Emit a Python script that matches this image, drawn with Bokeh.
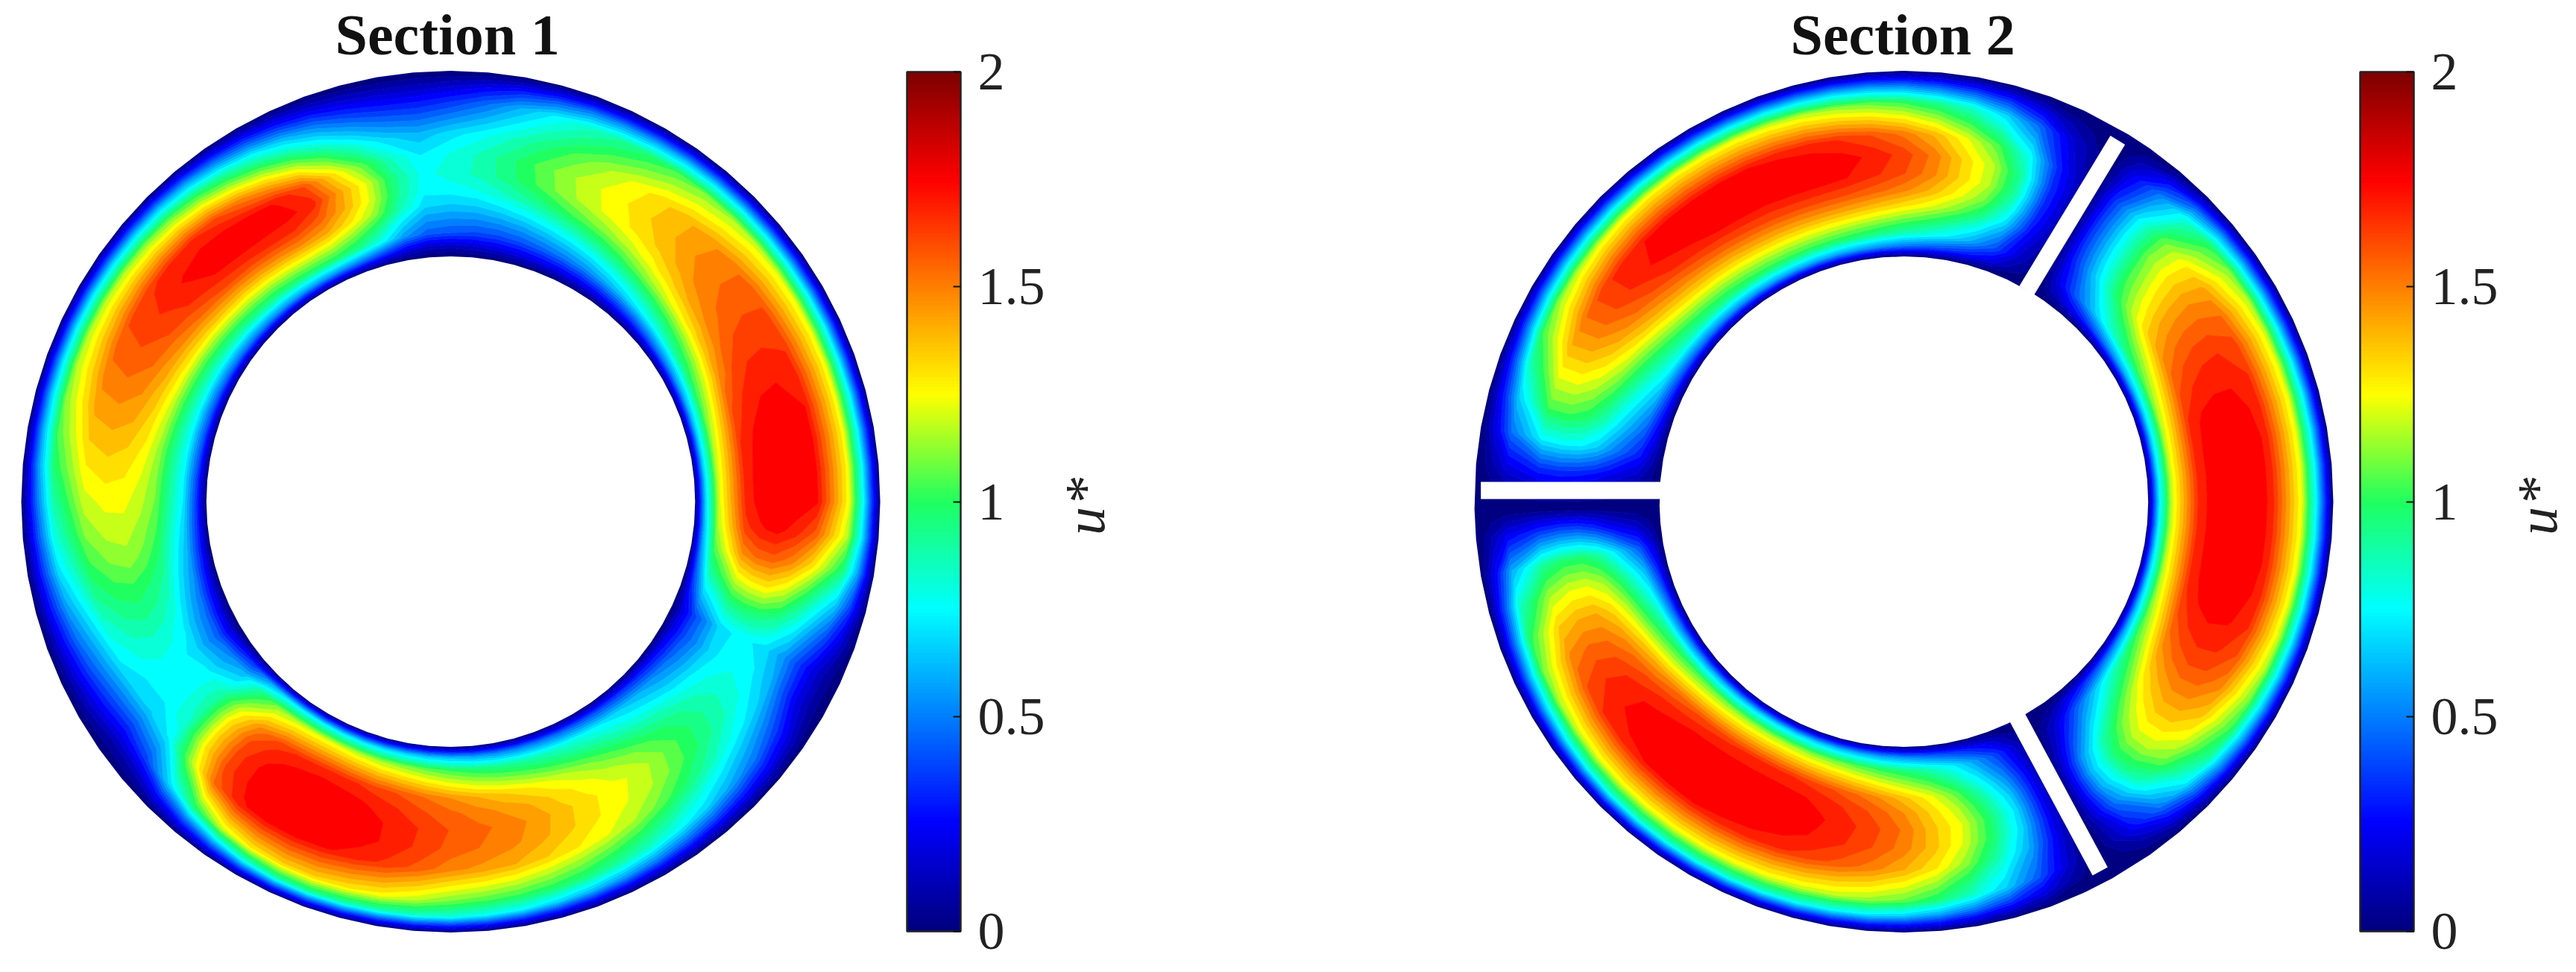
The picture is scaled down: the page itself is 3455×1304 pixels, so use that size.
import numpy as np

from bokeh.embed import file_html
from bokeh.layouts import row
from bokeh.models import ColorBar, FixedTicker, Label, LinearColorMapper, Range1d
from bokeh.plotting import figure
from bokeh.resources import INLINE

# radial stations across the gap, 0 = inner wall, 1 = outer wall
gap_s = [0.0, 0.06, 0.13, 0.28, 0.36, 0.45, 0.55, 0.66, 0.83, 0.91, 1.0]
inner_radius = 0.569

section1_theta = list(range(0, 360, 5))
# u* at gap_s[1:-1], one row per angle
section1_u = [
    [.70, 1.22, 1.72, 1.78, 1.80, 1.80, 1.76, 1.27, .76],
    [.70, 1.22, 1.72, 1.78, 1.80, 1.80, 1.76, 1.28, .76],
    [.70, 1.20, 1.70, 1.77, 1.80, 1.80, 1.76, 1.28, .76],
    [.68, 1.16, 1.66, 1.74, 1.78, 1.78, 1.75, 1.27, .75],
    [.65, 1.10, 1.60, 1.69, 1.74, 1.75, 1.72, 1.27, .74],
    [.60, 1.04, 1.50, 1.63, 1.69, 1.70, 1.68, 1.26, .74],
    [.55, .97, 1.42, 1.56, 1.63, 1.65, 1.64, 1.25, .73],
    [.50, .90, 1.35, 1.50, 1.57, 1.60, 1.60, 1.24, .72],
    [.44, .82, 1.28, 1.44, 1.53, 1.55, 1.54, 1.22, .71],
    [.38, .75, 1.20, 1.36, 1.46, 1.50, 1.48, 1.18, .70],
    [.34, .68, 1.12, 1.28, 1.39, 1.43, 1.42, 1.14, .68],
    [.31, .62, 1.04, 1.21, 1.33, 1.37, 1.35, 1.08, .65],
    [.28, .56, .97, 1.15, 1.28, 1.30, 1.26, 1.00, .60],
    [.26, .52, .90, 1.09, 1.22, 1.24, 1.17, .93, .56],
    [.24, .48, .84, 1.02, 1.15, 1.17, 1.08, .85, .52],
    [.22, .44, .78, .94, 1.06, 1.08, .98, .75, .44],
    [.20, .42, .73, .87, .97, .98, .88, .62, .36],
    [.18, .42, .69, .81, .89, .89, .79, .48, .27],
    [.16, .44, .68, .78, .84, .82, .72, .38, .20],
    [.17, .46, .70, .77, .79, .75, .65, .33, .17],
    [.24, .58, .90, .96, .96, .88, .70, .34, .17],
    [.38, .80, 1.16, 1.24, 1.25, 1.10, .84, .40, .20],
    [.50, .95, 1.33, 1.44, 1.47, 1.34, 1.02, .52, .26],
    [.56, 1.02, 1.46, 1.60, 1.72, 1.62, 1.22, .65, .33],
    [.58, 1.02, 1.50, 1.68, 1.77, 1.74, 1.38, .78, .42],
    [.58, 1.00, 1.48, 1.68, 1.78, 1.78, 1.52, .90, .50],
    [.56, .96, 1.45, 1.66, 1.78, 1.80, 1.64, 1.02, .60],
    [.54, .94, 1.42, 1.64, 1.76, 1.79, 1.70, 1.10, .66],
    [.52, .90, 1.40, 1.60, 1.72, 1.76, 1.70, 1.15, .68],
    [.50, .87, 1.36, 1.55, 1.67, 1.71, 1.68, 1.18, .70],
    [.48, .84, 1.32, 1.50, 1.62, 1.66, 1.64, 1.20, .72],
    [.46, .82, 1.28, 1.45, 1.57, 1.61, 1.59, 1.20, .72],
    [.45, .80, 1.24, 1.40, 1.51, 1.55, 1.53, 1.18, .70],
    [.44, .78, 1.20, 1.35, 1.45, 1.48, 1.46, 1.14, .68],
    [.43, .77, 1.16, 1.30, 1.38, 1.41, 1.38, 1.08, .64],
    [.41, .76, 1.14, 1.25, 1.32, 1.34, 1.30, 1.00, .60],
    [.40, .75, 1.12, 1.21, 1.27, 1.27, 1.22, .90, .52],
    [.38, .70, 1.07, 1.16, 1.22, 1.21, 1.14, .82, .46],
    [.34, .64, 1.00, 1.10, 1.16, 1.13, 1.05, .72, .40],
    [.30, .58, .92, 1.00, 1.05, 1.03, .95, .60, .33],
    [.27, .52, .84, .92, .96, .93, .84, .50, .27],
    [.24, .48, .76, .83, .86, .84, .76, .42, .22],
    [.22, .46, .72, .77, .79, .77, .70, .35, .18],
    [.30, .55, .76, .77, .77, .76, .68, .30, .13],
    [.40, .65, .90, .92, .90, .86, .76, .40, .16],
    [.60, .95, 1.25, 1.33, 1.35, 1.32, 1.18, .70, .33],
    [.72, 1.15, 1.52, 1.62, 1.66, 1.66, 1.58, 1.00, .50],
    [.75, 1.22, 1.66, 1.73, 1.77, 1.77, 1.74, 1.22, .66],
    [.75, 1.25, 1.70, 1.77, 1.80, 1.80, 1.78, 1.32, .82],
    [.74, 1.25, 1.72, 1.78, 1.80, 1.80, 1.78, 1.36, .92],
    [.72, 1.22, 1.70, 1.77, 1.80, 1.80, 1.76, 1.36, .95],
    [.70, 1.18, 1.66, 1.74, 1.78, 1.78, 1.72, 1.32, .92],
    [.68, 1.15, 1.62, 1.69, 1.73, 1.73, 1.67, 1.28, .90],
    [.66, 1.10, 1.56, 1.63, 1.68, 1.67, 1.60, 1.20, .88],
    [.64, 1.05, 1.50, 1.58, 1.62, 1.60, 1.52, 1.12, .85],
    [.60, 1.00, 1.44, 1.53, 1.58, 1.56, 1.48, 1.08, .80],
    [.56, .96, 1.38, 1.48, 1.54, 1.52, 1.44, 1.05, .76],
    [.54, .92, 1.32, 1.43, 1.48, 1.46, 1.38, 1.02, .70],
    [.52, .88, 1.25, 1.35, 1.40, 1.39, 1.32, .98, .64],
    [.49, .84, 1.18, 1.28, 1.33, 1.32, 1.26, .92, .58],
    [.46, .80, 1.10, 1.21, 1.27, 1.26, 1.19, .86, .52],
    [.43, .74, 1.02, 1.15, 1.23, 1.20, 1.10, .78, .46],
    [.40, .68, .94, 1.06, 1.13, 1.11, 1.00, .70, .40],
    [.36, .62, .88, .98, 1.03, 1.01, .90, .60, .34],
    [.32, .55, .80, .90, .94, .92, .80, .50, .28],
    [.28, .48, .74, .82, .86, .83, .72, .38, .20],
    [.23, .42, .68, .77, .80, .76, .64, .24, .11],
    [.20, .40, .70, .75, .76, .72, .58, .24, .11],
    [.34, .68, .96, 1.00, 1.00, .94, .78, .42, .22],
    [.48, .92, 1.24, 1.30, 1.32, 1.22, 1.02, .68, .40],
    [.60, 1.08, 1.50, 1.58, 1.60, 1.52, 1.34, .98, .60],
    [.66, 1.18, 1.66, 1.74, 1.77, 1.72, 1.60, 1.20, .72],
]

section2_theta = [0, 5, 10, 15, 20, 25, 30, 35, 40, 45, 50, 55, 58.5, 65, 70, 75, 80, 85, 90, 95, 100,
                  105, 110, 115, 120, 125, 130, 135, 140, 145, 150, 155, 160, 165, 170, 175, 181, 185,
                  190, 195, 200, 205, 210, 215, 220, 225, 230, 235, 240, 245, 250, 255, 260, 265, 270,
                  275, 280, 285, 290, 295, 299, 305, 310, 315, 320, 325, 330, 335, 340, 345, 350, 355]
section2_u = [
    [.72, 1.22, 1.72, 1.78, 1.80, 1.80, 1.74, 1.25, .74],
    [.72, 1.22, 1.72, 1.78, 1.80, 1.80, 1.74, 1.25, .74],
    [.72, 1.22, 1.72, 1.78, 1.80, 1.80, 1.74, 1.25, .74],
    [.70, 1.20, 1.70, 1.77, 1.79, 1.79, 1.72, 1.25, .74],
    [.68, 1.17, 1.64, 1.71, 1.74, 1.74, 1.69, 1.24, .72],
    [.66, 1.12, 1.57, 1.64, 1.68, 1.69, 1.65, 1.23, .70],
    [.62, 1.05, 1.48, 1.55, 1.59, 1.60, 1.57, 1.20, .68],
    [.56, .96, 1.36, 1.43, 1.47, 1.49, 1.46, 1.14, .65],
    [.47, .84, 1.18, 1.25, 1.30, 1.33, 1.30, 1.02, .60],
    [.35, .66, .96, 1.04, 1.08, 1.12, 1.10, .82, .48],
    [.24, .46, .66, .72, .76, .78, .76, .52, .30],
    [.11, .21, .32, .36, .38, .38, .36, .22, .12],
    [0, 0, 0, 0, 0, 0, 0, 0, 0],
    [.09, .18, .30, .35, .38, .38, .34, .20, .10],
    [.22, .42, .72, .84, .92, .92, .80, .48, .24],
    [.32, .60, .98, 1.12, 1.20, 1.20, 1.08, .70, .38],
    [.40, .74, 1.14, 1.28, 1.36, 1.36, 1.26, .86, .46],
    [.46, .84, 1.26, 1.42, 1.52, 1.54, 1.42, .96, .52],
    [.52, .90, 1.34, 1.52, 1.63, 1.66, 1.54, 1.04, .58],
    [.56, .96, 1.40, 1.58, 1.70, 1.73, 1.62, 1.10, .62],
    [.59, 1.00, 1.44, 1.62, 1.75, 1.78, 1.68, 1.15, .66],
    [.60, 1.02, 1.46, 1.64, 1.77, 1.80, 1.72, 1.20, .68],
    [.61, 1.03, 1.46, 1.64, 1.77, 1.80, 1.74, 1.23, .70],
    [.61, 1.03, 1.45, 1.63, 1.76, 1.80, 1.75, 1.25, .71],
    [.60, 1.02, 1.44, 1.62, 1.76, 1.80, 1.76, 1.26, .72],
    [.58, 1.00, 1.41, 1.60, 1.75, 1.80, 1.76, 1.27, .72],
    [.56, .97, 1.38, 1.57, 1.73, 1.79, 1.76, 1.27, .72],
    [.54, .94, 1.35, 1.53, 1.69, 1.77, 1.75, 1.26, .72],
    [.51, .90, 1.30, 1.48, 1.63, 1.72, 1.72, 1.24, .70],
    [.47, .85, 1.22, 1.41, 1.56, 1.65, 1.66, 1.21, .68],
    [.43, .78, 1.12, 1.31, 1.46, 1.55, 1.56, 1.16, .64],
    [.37, .69, 1.01, 1.19, 1.33, 1.42, 1.43, 1.06, .56],
    [.31, .58, .88, 1.05, 1.18, 1.26, 1.26, .88, .45],
    [.24, .46, .74, .90, 1.02, 1.08, 1.08, .68, .35],
    [.16, .33, .55, .68, .77, .80, .78, .50, .25],
    [.07, .15, .24, .30, .34, .36, .34, .22, .11],
    [0, 0, 0, 0, 0, 0, 0, 0, 0],
    [.08, .16, .28, .38, .45, .45, .40, .26, .13],
    [.22, .45, .78, .94, 1.02, 1.02, .94, .62, .30],
    [.34, .65, 1.02, 1.17, 1.25, 1.25, 1.18, .86, .44],
    [.42, .78, 1.18, 1.34, 1.44, 1.44, 1.38, 1.02, .54],
    [.48, .88, 1.30, 1.47, 1.56, 1.58, 1.52, 1.12, .62],
    [.52, .96, 1.40, 1.57, 1.66, 1.68, 1.62, 1.18, .68],
    [.56, 1.02, 1.48, 1.64, 1.73, 1.74, 1.69, 1.22, .74],
    [.60, 1.08, 1.56, 1.70, 1.77, 1.78, 1.73, 1.25, .80],
    [.63, 1.12, 1.62, 1.74, 1.79, 1.80, 1.75, 1.26, .84],
    [.66, 1.15, 1.66, 1.76, 1.80, 1.80, 1.75, 1.26, .85],
    [.68, 1.17, 1.68, 1.77, 1.80, 1.80, 1.75, 1.26, .85],
    [.69, 1.18, 1.70, 1.77, 1.80, 1.80, 1.74, 1.26, .85],
    [.69, 1.18, 1.70, 1.77, 1.80, 1.79, 1.73, 1.25, .85],
    [.68, 1.16, 1.68, 1.76, 1.79, 1.78, 1.70, 1.24, .84],
    [.66, 1.14, 1.64, 1.73, 1.76, 1.74, 1.66, 1.22, .82],
    [.64, 1.10, 1.58, 1.67, 1.71, 1.69, 1.60, 1.20, .78],
    [.60, 1.04, 1.50, 1.60, 1.64, 1.62, 1.53, 1.16, .74],
    [.56, .98, 1.40, 1.50, 1.55, 1.53, 1.44, 1.10, .68],
    [.50, .90, 1.28, 1.36, 1.40, 1.40, 1.32, 1.00, .60],
    [.42, .78, 1.10, 1.20, 1.26, 1.24, 1.14, .86, .50],
    [.32, .60, .86, .96, 1.02, 1.00, .90, .68, .38],
    [.20, .40, .58, .67, .72, .70, .62, .44, .24],
    [.07, .15, .22, .24, .25, .25, .22, .15, .08],
    [0, 0, 0, 0, 0, 0, 0, 0, 0],
    [.10, .22, .44, .58, .65, .62, .50, .26, .12],
    [.24, .46, .76, .92, 1.00, .97, .85, .50, .26],
    [.36, .66, 1.00, 1.14, 1.22, 1.20, 1.10, .74, .40],
    [.46, .84, 1.18, 1.30, 1.37, 1.36, 1.26, .92, .52],
    [.54, .96, 1.34, 1.44, 1.50, 1.49, 1.40, 1.04, .60],
    [.60, 1.06, 1.48, 1.57, 1.62, 1.61, 1.52, 1.12, .66],
    [.64, 1.12, 1.58, 1.67, 1.71, 1.70, 1.62, 1.18, .70],
    [.68, 1.17, 1.66, 1.74, 1.77, 1.76, 1.69, 1.22, .72],
    [.70, 1.20, 1.70, 1.78, 1.80, 1.79, 1.73, 1.24, .74],
    [.72, 1.22, 1.72, 1.78, 1.80, 1.80, 1.74, 1.25, .74],
    [.72, 1.22, 1.72, 1.78, 1.80, 1.80, 1.74, 1.25, .74],
]

# white plates in section 2, ring radius = 1
baffle_x0 = [-0.985, 0.498, 0.457]
baffle_y0 = [0.026, 0.839, -0.858]
baffle_x1 = [-0.560, 0.286, 0.262]
baffle_y1 = [0.026, 0.490, -0.497]

# colour scale
bar_ticks = [0, 0.5, 1, 1.5, 2]
bar_tick_labels = ["0", "0.5", "1", "1.5", "2"]
cmap_values = [0, 0.25, 0.75, 1.0, 1.25, 1.75, 2.0]
cmap_red = [0, 0, 0, 32, 255, 255, 128]
cmap_green = [0, 0, 255, 255, 255, 0, 0]
cmap_blue = [128, 255, 255, 96, 0, 0, 0]

FONT = "Liberation Serif"


def to_color(v):
    r = np.interp(v, cmap_values, cmap_red)
    g = np.interp(v, cmap_values, cmap_green)
    b = np.interp(v, cmap_values, cmap_blue)
    return "#%02x%02x%02x" % (int(r), int(g), int(b))


levels = [i / 16 for i in range(33)]
band_colors = [to_color(v) for v in levels[:-1]]
levels[0] = -0.01  # so the zero walls and plates are filled too
bar_palette = [to_color(2 * i / 255) for i in range(256)]


def ring_grid(theta, values):
    # close the ring and put the no-slip walls on both sides
    th = np.radians(list(theta) + [360.0])
    u = np.array(list(values) + [values[0]], dtype=float)
    u = np.hstack([np.zeros((len(u), 1)), u, np.zeros((len(u), 1))])
    r = inner_radius + np.array(gap_s) * (1 - inner_radius)
    return np.outer(np.cos(th), r), np.outer(np.sin(th), r), u


def section_plot(name, theta, values, width, title_offset, x_right, border_left):
    p = figure(frame_width=width, frame_height=1200, title=name, output_backend="svg",
               toolbar_location=None, min_border=0, min_border_left=border_left,
               x_range=Range1d(-1.0365, x_right), y_range=Range1d(-1.0666, 1.0095))
    p.axis.visible = False
    p.grid.visible = False
    p.outline_line_color = None
    p.title.text_font = FONT
    p.title.text_font_size = "78px"
    p.title.text_font_style = "bold"
    p.title.text_color = "#111111"
    p.title.offset = title_offset
    p.title.standoff = 0

    x, y, u = ring_grid(theta, values)
    p.contour(x, y, u, levels, fill_color=band_colors,
              line_color=band_colors + [band_colors[-1]], line_width=1.2)

    mapper = LinearColorMapper(palette=bar_palette, low=0, high=2)
    bar = ColorBar(color_mapper=mapper, ticker=FixedTicker(ticks=bar_ticks),
                   major_label_overrides=dict(zip(bar_ticks, bar_tick_labels)),
                   location=(1209, 40), width=72, height=1153, margin=0, padding=0,
                   bar_line_color="#222222", bar_line_width=2.5,
                   major_tick_in=10, major_tick_out=0, major_tick_line_color="#111111",
                   major_tick_line_width=2, minor_tick_line_color=None,
                   label_standoff=23, major_label_text_font=FONT,
                   major_label_text_font_size="72px", major_label_text_color="#222222",
                   background_fill_color=None, border_line_color=None)
    p.add_layout(bar)

    label_x = (1455 - 605) / 576
    for text, style, label_y in [("u", "italic", -45 / 578), ("*", "normal", -2 / 578)]:
        p.add_layout(Label(x=label_x, y=label_y, text=text, angle=90, angle_units="deg",
                           text_font=FONT, text_font_size="76px", text_font_style=style,
                           text_color="#222222", text_baseline="alphabetic"))
    return p


left = section_plot("Section 1", section1_theta, section1_u, 1949, 442, 2.347, 7)
right = section_plot("Section 2", section2_theta, section2_u, 1488, 445, 1.5469, 0)
right.segment(baffle_x0, baffle_y0, baffle_x1, baffle_y1, line_color="white", line_width=23)

layout = row(left, right, spacing=0)
open("out.html", "w").write(file_html(layout, INLINE))
